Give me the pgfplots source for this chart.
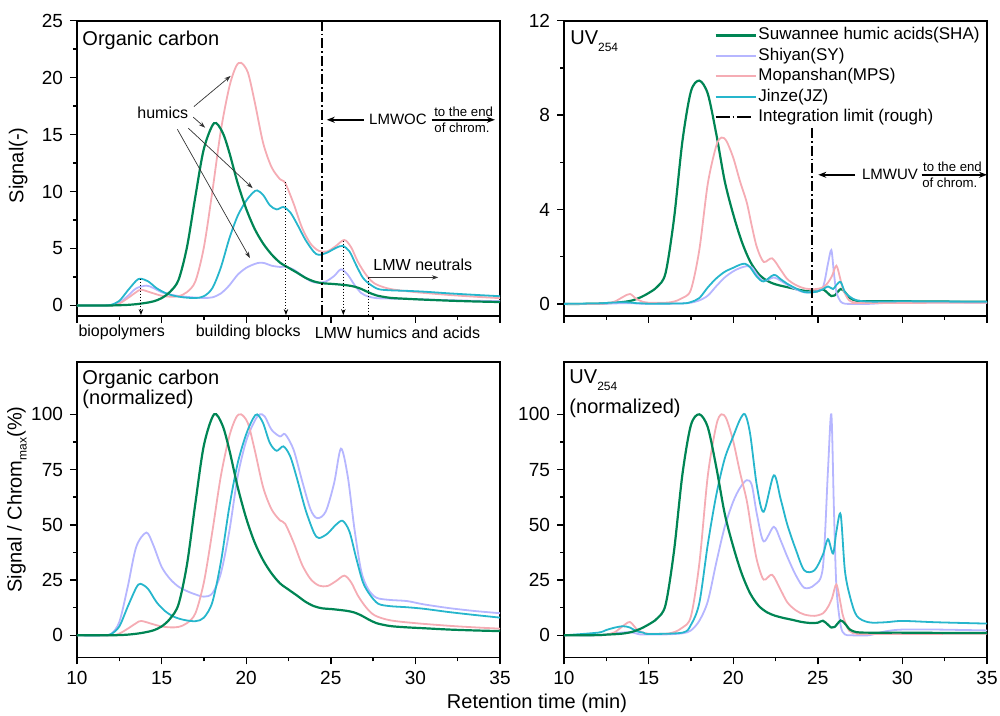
\documentclass[border=0pt]{standalone}
\usepackage{fontspec}
\setmainfont{Liberation Sans}
\usepackage{pgfplots}
\pgfplotsset{compat=1.18}
\usepgfplotslibrary{groupplots}
\usetikzlibrary{arrows.meta}
\definecolor{csha}{RGB}{0,133,84}
\definecolor{csy}{RGB}{182,182,255}
\definecolor{cmps}{RGB}{245,172,180}
\definecolor{cjz}{RGB}{38,182,204}
\newcommand{\fs}[1]{\fontsize{#1}{#1}\selectfont}
\tikzset{
  sha/.style={csha, line width=1.1pt, smooth},
  sy/.style={csy, line width=0.9pt, smooth},
  mps/.style={cmps, line width=0.9pt, smooth},
  jz/.style={cjz, line width=0.9pt, smooth},
  ann/.style={black!80, line width=0.35pt, -{Stealth[length=3.2pt,width=2.2pt]}},
  dotv/.style={black, line width=0.5pt, densely dotted},
  lim/.style={black, line width=1.1pt, dash pattern=on 5pt off 1.5pt on 0.9pt off 1.5pt},
  bigarr/.style={black, line width=0.8pt, -{Stealth[length=4pt,width=3pt]}},
}
\begin{document}
\begin{tikzpicture}
\begin{groupplot}[
  group style={group size=2 by 2, horizontal sep=32pt, vertical sep=23.35pt, group name=g},
  scale only axis, width=211.5pt, height=147.5pt,
  xmin=10, xmax=35, xtick={10,15,...,35}, minor x tick num=1,
  axis line style={line width=0.9pt},
  tick style={black, line width=0.7pt},
  tick align=outside, tick pos=left,
  major tick length=3.5pt, minor tick length=2pt,
  /pgf/number format/assume math mode=true,
  ticklabel style={font=\fs{9.5}},
  clip mode=individual,
  legend image code/.code={\draw[#1] (0pt,0pt) -- (20pt,0pt);},
]
%% ---------------- top-left: organic carbon ----------------
\nextgroupplot[ymin=-0.9, ymax=25, ytick={0,5,...,25}, minor y tick num=1, xticklabels={},
  ylabel={Signal(-)},
  every axis y label/.style={at={(axis description cs:-0.139,0.51)}, rotate=90, anchor=center, font=\fs{10}}]
\addplot[sy] coordinates {(10,0)(11.5,0)(12,0.02)(12.5,0.23)(13,0.83)(13.5,1.5)(14.1,1.74)(14.5,1.54)(15,1.16)(15.5,0.96)(16,0.83)(16.5,0.75)(17,0.69)(17.5,0.66)(18,0.71)(18.5,1.05)(19,1.76)(19.5,2.7)(20,3.3)(20.5,3.64)(20.8,3.75)(21.1,3.71)(21.5,3.49)(22,3.38)(22.3,3.41)(22.8,3.15)(23.3,2.63)(23.8,2.14)(24.2,1.99)(24.7,2.1)(25.2,2.59)(25.6,3.17)(26,2.7)(26.4,1.8)(26.8,1.09)(27.2,0.79)(27.7,0.64)(28.5,0.6)(29.5,0.58)(30.5,0.53)(32,0.46)(33.5,0.41)(35,0.38)};
\addplot[mps] coordinates {(10,0)(12,0)(12.5,0.17)(13,0.64)(13.5,1.17)(13.8,1.38)(14.5,1.07)(15,0.85)(15.5,0.77)(16,0.81)(16.5,1.17)(17,2.13)(17.5,5.11)(18,10.01)(18.5,15.34)(19,19.17)(19.4,20.98)(19.7,21.3)(20.1,20.45)(20.5,17.89)(21,14.27)(21.5,12.14)(22,11.08)(22.3,10.76)(22.8,8.95)(23.3,6.82)(23.8,5.43)(24.3,4.79)(24.8,4.75)(25.3,5.22)(25.8,5.75)(26.2,5.11)(26.6,3.83)(27.1,2.66)(27.6,1.92)(28.5,1.45)(30,1.17)(32,0.92)(33.5,0.77)(35,0.64)};
\addplot[jz] coordinates {(10,0)(11.5,0)(12,0.05)(12.5,0.4)(13,1.31)(13.5,2.17)(13.75,2.35)(14.2,2.12)(14.7,1.52)(15.2,1.11)(15.7,0.86)(16.3,0.71)(17,0.65)(17.5,0.81)(18,1.52)(18.5,3.33)(19,5.86)(19.5,7.88)(20,9.19)(20.4,9.9)(20.65,10.1)(21,9.7)(21.4,8.79)(21.8,8.43)(22.2,8.64)(22.6,8.18)(23,7.17)(23.5,5.76)(24,4.7)(24.3,4.44)(24.8,4.65)(25.3,5.05)(25.7,5.23)(26.1,4.75)(26.5,3.54)(26.9,2.42)(27.3,1.87)(27.8,1.44)(28.5,1.33)(29.5,1.28)(30.5,1.21)(32,1.06)(33.5,0.93)(35,0.81)};
\addplot[sha] coordinates {(10,0)(11,0)(12,0)(12.5,0.02)(13,0.05)(13.5,0.11)(14,0.21)(14.5,0.35)(15,0.64)(15.5,1.2)(16,2.24)(16.5,5.12)(17,9.6)(17.5,13.76)(18.1,16)(18.6,15.2)(19,13.44)(19.5,10.72)(20,8.48)(20.5,6.72)(21,5.44)(21.5,4.48)(22,3.76)(22.5,3.31)(23,2.88)(23.5,2.43)(24,2.11)(24.5,1.95)(25,1.9)(25.5,1.84)(26,1.76)(26.4,1.65)(26.8,1.45)(27.2,1.17)(27.7,0.88)(28.5,0.67)(29.5,0.58)(30.5,0.51)(32,0.42)(33.5,0.35)(35,0.3)};
\node[font=\fs{10}, anchor=north west, inner sep=0pt] at (rel axis cs:0.012,0.966) {Organic carbon};
\node[font=\fs{8}] at (axis cs:15.07,16.88) {humics};
\draw[ann] (axis cs:16.91,17.46) -- (axis cs:19.08,20.15);
\draw[ann] (axis cs:16.87,16.53) -- (axis cs:17.57,15.61);
\draw[ann] (axis cs:16.58,15.56) -- (axis cs:20.38,10.3);
\draw[ann] (axis cs:15.93,15.47) -- (axis cs:20.22,4.16);
\draw[dotv, -{Stealth[length=3pt,width=2.2pt]}] (axis cs:13.78,2.35) -- (axis cs:13.78,-0.85);
\draw[dotv, -{Stealth[length=3pt,width=2.2pt]}] (axis cs:22.35,10.8) -- (axis cs:22.35,-0.85);
\draw[dotv, -{Stealth[length=3pt,width=2.2pt]}] (axis cs:25.74,5.7) -- (axis cs:25.74,-0.85);
\draw[dotv] (axis cs:27.22,2.45) -- (axis cs:27.22,-0.9);
\draw[lim] (axis cs:24.48,25) -- (axis cs:24.48,-0.9);
\draw[bigarr] (axis cs:26.96,16.3) -- (axis cs:24.76,16.3);
\node[font=\fs{7.5}] at (axis cs:28.97,16.3) {LMWOC};
\draw[bigarr] (axis cs:30.96,16.3) -- (axis cs:34.7,16.3);
\node[font=\fs{6.6}, anchor=south, inner sep=1.5pt] at (axis cs:32.85,16.3) {to the end};
\node[font=\fs{6.6}, anchor=north, inner sep=1.2pt] at (axis cs:32.75,16.3) {of chrom.};
\node[font=\fs{8}] at (axis cs:30.44,3.57) {LMW neutrals};
\draw[ann] (axis cs:27.22,2.46) -- (axis cs:31.35,2.46);
\node[font=\fs{8}] at (axis cs:12.64,-2.39) {biopolymers};
\node[font=\fs{8}] at (axis cs:20.12,-2.39) {building blocks};
\node[font=\fs{8}] at (axis cs:28.94,-2.39) {LMW humics and acids};
%% ---------------- top-right: UV254 ----------------
\nextgroupplot[ymin=-0.5, ymax=12, ytick={0,4,8,12}, minor y tick num=1, xticklabels={},
  legend cell align=left,
  legend style={at={(0.355,0.986)}, anchor=north west, draw=none, fill=none, inner sep=0pt,
    font=\fs{8.5}, nodes={inner sep=0.85pt, text height=6.5pt, text depth=2pt}, row sep=0pt}]
\addplot[sha] coordinates {(10,0)(11,0)(12,0.01)(12.5,0.03)(13,0.05)(13.5,0.08)(14,0.14)(14.5,0.27)(15,0.46)(15.5,0.72)(16,1.3)(16.5,3.6)(17,6.9)(17.5,9.0)(18,9.46)(18.5,8.9)(19,7.2)(19.5,5.2)(20,3.8)(20.5,2.65)(21,1.8)(21.5,1.27)(22,0.98)(22.5,0.83)(23,0.74)(23.5,0.66)(24,0.58)(24.5,0.53)(25,0.54)(25.3,0.62)(25.6,0.45)(25.8,0.33)(26,0.36)(26.35,0.63)(26.6,0.5)(26.9,0.25)(27.3,0.13)(28,0.11)(30,0.11)(32,0.1)(35,0.09)};
\addlegendentry{Suwannee humic acids(SHA)}
\addplot[sy] coordinates {(10,0)(12,0)(12.5,0.01)(13,0.02)(13.5,0.03)(14,0.03)(14.5,0.01)(15,0.01)(16,0.01)(17,0.02)(17.5,0.05)(18,0.15)(18.5,0.35)(19,0.75)(19.5,1.12)(20,1.38)(20.4,1.52)(20.8,1.6)(21.1,1.55)(21.4,1.25)(21.8,0.97)(22.4,1.12)(22.8,0.98)(23.2,0.81)(23.7,0.62)(24.2,0.49)(24.8,0.52)(25.3,0.7)(25.6,1.7)(25.8,2.28)(25.95,1.32)(26.1,0.5)(26.35,0.1)(26.6,0.01)(27,0)(28,0)(29,0.04)(30,0.06)(32,0.06)(35,0.05)};
\addlegendentry{Shiyan(SY)}
\addplot[mps] coordinates {(10,0)(12,0)(12.5,0.02)(13,0.1)(13.5,0.3)(13.9,0.42)(14.3,0.2)(14.7,0.08)(15,0.05)(16,0.05)(16.5,0.1)(17,0.25)(17.5,0.6)(18,2.3)(18.5,5.1)(19,6.7)(19.3,7.05)(19.6,6.9)(20,6.2)(20.4,5.2)(20.8,4.3)(21.1,3.3)(21.4,2.4)(21.8,1.78)(22.3,1.93)(22.8,1.45)(23.2,1.05)(23.7,0.8)(24.2,0.66)(24.8,0.62)(25.3,0.7)(25.6,0.9)(25.85,1.2)(26.1,1.62)(26.35,1.0)(26.5,0.6)(26.85,0.15)(27.3,0.05)(28,0.04)(35,0.05)};
\addlegendentry{Mopanshan(MPS)}
\addplot[jz] coordinates {(10,0)(12,0.02)(12.5,0.04)(13,0.06)(13.5,0.07)(13.9,0.06)(14.3,0.03)(14.7,0.02)(15,0.01)(17,0.02)(17.5,0.08)(18,0.25)(18.5,0.7)(19,1.08)(19.5,1.36)(20,1.53)(20.4,1.66)(20.7,1.7)(21,1.55)(21.4,1.15)(21.8,0.95)(22.4,1.23)(22.8,1.05)(23.2,0.85)(23.7,0.66)(24.2,0.5)(24.8,0.5)(25.3,0.62)(25.6,0.74)(25.9,0.63)(26.1,0.8)(26.35,0.93)(26.6,0.5)(26.9,0.3)(27.3,0.15)(28,0.1)(29,0.1)(30,0.11)(32,0.1)(35,0.09)};
\addlegendentry{Jinze(JZ)}
\addplot[lim, legend image code/.code={\draw[black, line width=0.6pt, dash pattern=on 7pt off 1.5pt on 0.8pt off 1.5pt] (0pt,0pt) -- (17.8pt,0pt);}] coordinates {(24.64,7.46)(24.64,-0.5)};
\addlegendentry{Integration limit (rough)}
\node[font=\fs{10}, anchor=north west, inner sep=0pt] at (rel axis cs:0.014,0.966) {UV\raisebox{-3.3pt}{\fs{6}254}};
\draw[bigarr] (axis cs:27.2,5.47) -- (axis cs:25.03,5.47);
\node[font=\fs{7.5}] at (axis cs:29.27,5.47) {LMWUV};
\draw[bigarr] (axis cs:31.14,5.47) -- (axis cs:35,5.47);
\node[font=\fs{6.6}, anchor=south, inner sep=1.5pt] at (axis cs:32.96,5.47) {to the end};
\node[font=\fs{6.6}, anchor=north, inner sep=1.2pt] at (axis cs:32.8,5.47) {of chrom.};
%% ---------------- bottom-left: OC normalized ----------------
\nextgroupplot[ymin=-10, ymax=123.5, ytick={0,25,...,100}, minor y tick num=1,
  ylabel={Signal / Chrom\raisebox{-2.5pt}{\fs{6}max}(\%)},
  every axis y label/.style={at={(axis description cs:-0.142,0.535)}, rotate=90, anchor=center, font=\fs{10}},
  xlabel={Retention time (min)},
  every axis x label/.style={at={(axis description cs:1.0874,-0.157)}, anchor=center, font=\fs{10}}]
\addplot[sy] coordinates {(10,0)(11.5,0)(12,0.5)(12.5,6)(13,22)(13.5,40)(14.1,46.5)(14.5,41)(15,31)(15.5,25.5)(16,22)(16.5,20)(17,18.5)(17.5,17.5)(18,19)(18.5,28)(19,47)(19.5,72)(20,88)(20.5,97)(20.8,100)(21.1,99)(21.5,93)(22,90)(22.3,91)(22.8,84)(23.3,70)(23.8,57)(24.2,53)(24.7,56)(25.2,69)(25.6,84.5)(26,72)(26.4,48)(26.8,29)(27.2,21)(27.7,17)(28.5,16)(29.5,15.5)(30.5,14)(32,12.3)(33.5,11)(35,10)};
\addplot[mps] coordinates {(10,0)(12,0)(12.5,0.8)(13,3)(13.5,5.5)(13.8,6.5)(14.5,5)(15,4)(15.5,3.6)(16,3.8)(16.5,5.5)(17,10)(17.5,24)(18,47)(18.5,72)(19,90)(19.4,98.5)(19.7,100)(20.1,96)(20.5,84)(21,67)(21.5,57)(22,52)(22.3,50.5)(22.8,42)(23.3,32)(23.8,25.5)(24.3,22.5)(24.8,22.3)(25.3,24.5)(25.8,27)(26.2,24)(26.6,18)(27.1,12.5)(27.6,9)(28.5,6.8)(30,5.5)(32,4.3)(33.5,3.6)(35,3)};
\addplot[jz] coordinates {(10,0)(11.5,0)(12,0.5)(12.5,4)(13,13)(13.5,21.5)(13.75,23.3)(14.2,21)(14.7,15)(15.2,11)(15.7,8.5)(16.3,7)(17,6.4)(17.5,8)(18,15)(18.5,33)(19,58)(19.5,78)(20,91)(20.4,98)(20.65,100)(21,96)(21.4,87)(21.8,83.5)(22.2,85.5)(22.6,81)(23,71)(23.5,57)(24,46.5)(24.3,44)(24.8,46)(25.3,50)(25.7,51.8)(26.1,47)(26.5,35)(26.9,24)(27.3,18.5)(27.8,14.3)(28.5,13.2)(29.5,12.7)(30.5,12)(32,10.5)(33.5,9.2)(35,8)};
\addplot[sha] coordinates {(10,0)(11,0)(12,0)(12.5,0.1)(13,0.3)(13.5,0.7)(14,1.3)(14.5,2.2)(15,4)(15.5,7.5)(16,14)(16.5,32)(17,60)(17.5,86)(18.1,100)(18.6,95)(19,84)(19.5,67)(20,53)(20.5,42)(21,34)(21.5,28)(22,23.5)(22.5,20.7)(23,18)(23.5,15.2)(24,13.2)(24.5,12.2)(25,11.9)(25.5,11.5)(26,11)(26.4,10.3)(26.8,9)(27.2,7.3)(27.7,5.5)(28.5,4.2)(29.5,3.6)(30.5,3.2)(32,2.6)(33.5,2.2)(35,1.9)};
\node[font=\fs{10}, anchor=north west, inner sep=0pt, align=left] at (rel axis cs:0.012,0.975) {Organic carbon\\(normalized)};
%% ---------------- bottom-right: UV normalized ----------------
\nextgroupplot[ymin=-10, ymax=123.5, ytick={0,25,...,100}, minor y tick num=1]
\addplot[sy] coordinates {(10,0)(12,0)(12.5,0.4)(13,0.9)(13.5,1.3)(14,1.3)(14.5,0.4)(15,0.4)(16,0.4)(17,0.9)(17.5,2.2)(18,6.6)(18.5,15.4)(19,32.9)(19.5,49.1)(20,60.5)(20.4,66.7)(20.8,70.2)(21.1,68)(21.4,54.8)(21.8,42.5)(22.4,49.1)(22.8,43)(23.2,35.5)(23.7,27.2)(24.2,21.5)(24.8,22.8)(25.3,30.7)(25.6,74.6)(25.8,100)(25.95,57.9)(26.1,21.9)(26.35,4.4)(26.6,0.4)(27,0)(28,0)(29,1.8)(30,2.6)(32,2.6)(35,2.2)};
\addplot[mps] coordinates {(10,0)(12,0)(12.5,0.3)(13,1.4)(13.5,4.3)(13.9,6)(14.3,2.8)(14.7,1.1)(15,0.7)(16,0.7)(16.5,1.4)(17,3.5)(17.5,8.5)(18,32.6)(18.5,72.3)(19,95)(19.3,100)(19.6,97.9)(20,87.9)(20.4,73.8)(20.8,61)(21.1,46.8)(21.4,34)(21.8,25.2)(22.3,27.4)(22.8,20.6)(23.2,14.9)(23.7,11.3)(24.2,9.4)(24.8,8.8)(25.3,9.9)(25.6,12.8)(25.85,17)(26.1,23)(26.35,14.2)(26.5,8.5)(26.85,2.1)(27.3,0.7)(28,0.6)(35,0.7)};
\addplot[jz] coordinates {(10,0)(12,1.2)(12.5,2.4)(13,3.5)(13.5,4.1)(13.9,3.5)(14.3,1.8)(14.7,1.2)(15,0.6)(17,1.2)(17.5,4.7)(18,14.7)(18.5,41.2)(19,63.5)(19.5,80)(20,90)(20.4,97.6)(20.7,100)(21,91.2)(21.4,67.6)(21.8,55.9)(22.4,72.4)(22.8,61.8)(23.2,50)(23.7,38.8)(24.2,29.4)(24.8,29.4)(25.3,36.5)(25.6,43.5)(25.9,37)(26.1,47)(26.35,54.7)(26.6,29.4)(26.9,17.6)(27.3,8.8)(28,5.9)(29,5.9)(30,6.5)(32,5.9)(35,5.3)};
\addplot[sha] coordinates {(10,0)(11,0)(12,0.1)(12.5,0.3)(13,0.5)(13.5,0.8)(14,1.5)(14.5,2.9)(15,4.9)(15.5,7.6)(16,13.7)(16.5,38)(17,72.9)(17.5,95.1)(18,100)(18.5,94.1)(19,76.1)(19.5,55)(20,40.2)(20.5,28)(21,19)(21.5,13.4)(22,10.4)(22.5,8.8)(23,7.8)(23.5,7)(24,6.1)(24.5,5.6)(25,5.7)(25.3,6.6)(25.6,4.8)(25.8,3.5)(26,3.8)(26.35,6.7)(26.6,5.3)(26.9,2.6)(27.3,1.4)(28,1.2)(30,1.2)(32,1.1)(35,1)};
\node[font=\fs{10}, anchor=north west, inner sep=0pt, align=left] at (rel axis cs:0.012,0.975) {UV\raisebox{-3.3pt}{\fs{6}254}\\[3pt](normalized)};
\end{groupplot}
\pgfresetboundingbox
\path[use as bounding box] ([xshift=-38.5pt,yshift=10.35pt]g c1r1.north west) rectangle ([xshift=6.5pt,yshift=-29.15pt]g c2r2.south east);
\end{tikzpicture}
\end{document}
